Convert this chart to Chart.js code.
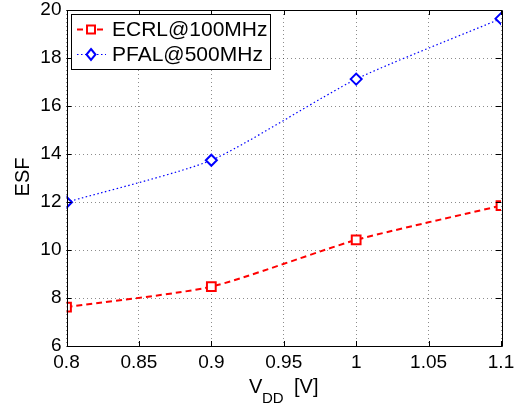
<!DOCTYPE html>
<html>
<head>
<meta charset="utf-8">
<script src="https://cdn.jsdelivr.net/npm/chart.js@4"></script>
<style>
  html, body { margin: 0; padding: 0; background: #fff; }
  #wrap { width: 521px; height: 406px; }
</style>
</head>
<body>
<div id="wrap"><canvas id="esf"></canvas></div>
<script>
// supply voltage sweep and energy saving factor per logic family
const vdd = [0.8, 0.9, 1.0, 1.1];
const ecrl = [7.62, 8.47, 10.42, 11.85];
const pfal = [11.99, 13.74, 17.12, 19.64];
const seriesNames = ["ECRL@100MHz", "PFAL@500MHz"];
const xTicks = [0.8, 0.85, 0.9, 0.95, 1.0, 1.05, 1.1];
const yTicks = [6, 8, 10, 12, 14, 16, 18, 20];

const FONT = "'Liberation Sans', Arial, Helvetica, sans-serif";

function pts(ys) {
    return vdd.map((x, i) => ({x: x, y: ys[i]}));
}

// box around the axes, inward tick marks, legend and the x label with subscript
const matlabAxes = {
    id: "matlabAxes",
    afterDraw(chart) {
        const ctx = chart.ctx;
        const a = chart.chartArea;
        const xs = chart.scales.x, ys = chart.scales.y;
        ctx.save();
        ctx.strokeStyle = "#000";
        ctx.lineWidth = 1;
        ctx.setLineDash([]);
        ctx.beginPath();
        ctx.rect(Math.round(a.left) + 0.5, Math.round(a.top) + 0.5,
                 Math.round(a.right - a.left), Math.round(a.bottom - a.top));
        ctx.stroke();

        const tl = 5;
        ctx.beginPath();
        xTicks.forEach(v => {
            const px = Math.round(xs.getPixelForValue(v)) + 0.5;
            ctx.moveTo(px, a.bottom); ctx.lineTo(px, a.bottom - tl);
            ctx.moveTo(px, a.top); ctx.lineTo(px, a.top + tl);
        });
        yTicks.forEach(v => {
            const py = Math.round(ys.getPixelForValue(v)) + 0.5;
            ctx.moveTo(a.left, py); ctx.lineTo(a.left + tl, py);
            ctx.moveTo(a.right, py); ctx.lineTo(a.right - tl, py);
        });
        ctx.stroke();

        // legend
        const lx = 71.5, ly = 14.5, lw = 199, lh = 55;
        ctx.fillStyle = "#fff";
        ctx.fillRect(lx, ly, lw, lh);
        ctx.strokeStyle = "#000";
        ctx.strokeRect(lx, ly, lw, lh);
        ctx.font = "21px " + FONT;
        ctx.textBaseline = "middle";
        ctx.textAlign = "left";
        chart.data.datasets.forEach((ds, i) => {
            const cy = 29.5 + i * 25;
            ctx.strokeStyle = ds.borderColor;
            ctx.lineWidth = ds.borderWidth;
            ctx.setLineDash(ds.borderDash);
            ctx.beginPath();
            ctx.moveTo(77, cy); ctx.lineTo(106, cy);
            ctx.stroke();
            ctx.setLineDash([]);
            ctx.lineWidth = ds.pointBorderWidth;
            ctx.fillStyle = "#fff";
            ctx.beginPath();
            if (ds.pointStyle === "rect") {
                ctx.rect(87, cy - 4, 8, 8);
            } else {
                ctx.moveTo(91, cy - 5.5); ctx.lineTo(95.5, cy);
                ctx.lineTo(91, cy + 5.5); ctx.lineTo(86.5, cy);
                ctx.closePath();
            }
            ctx.fill();
            ctx.stroke();
            ctx.fillStyle = "#000";
            ctx.fillText(ds.label, 112, cy + 1);
        });

        // x axis title: V_DD [V]
        ctx.fillStyle = "#000";
        ctx.textBaseline = "alphabetic";
        ctx.font = "20px " + FONT;
        ctx.fillText("V", 249, 393);
        ctx.font = "15px " + FONT;
        ctx.fillText("DD", 262, 403);
        ctx.font = "20px " + FONT;
        ctx.fillText("[V]", 294, 393);
        ctx.restore();
    }
};

new Chart(document.getElementById("esf"), {
    type: "line",
    data: {
        datasets: [{
            label: seriesNames[0],
            data: pts(ecrl),
            borderColor: "#ff0000",
            borderWidth: 2,
            borderDash: [6, 4],
            pointStyle: "rect",
            pointRadius: 6.2,
            pointBorderWidth: 2,
            pointBackgroundColor: "#fff",
            pointBorderColor: "#ff0000",
            tension: 0.2
        }, {
            label: seriesNames[1],
            data: pts(pfal),
            borderColor: "#0000ff",
            borderWidth: 1.2,
            borderDash: [1.5, 2.5],
            pointStyle: "rectRot",
            pointRadius: 5.5,
            pointBorderWidth: 2,
            pointBackgroundColor: "#fff",
            pointBorderColor: "#0000ff",
            tension: 0.2
        }]
    },
    options: {
        responsive: true,
        maintainAspectRatio: false,
        animation: false,
        events: [],
        layout: {padding: {left: 0, right: 20, top: 10, bottom: 0}},
        plugins: {legend: {display: false}, tooltip: {enabled: false}},
        scales: {
            x: {
                type: "linear",
                min: 0.8,
                max: 1.1,
                afterBuildTicks: s => { s.ticks = xTicks.map(v => ({value: v})); },
                afterFit: s => {
                    s.height = 60;
                    s.paddingLeft = 0;
                    s.paddingRight = 0;
                },
                ticks: {
                    color: "#000",
                    padding: 5,
                    font: {family: FONT, size: 19},
                    callback: v => String(+v.toFixed(2))
                },
                grid: {color: "rgba(0,0,0,0.45)", lineWidth: 1, drawTicks: false},
                border: {display: false, dash: [1, 3]}
            },
            y: {
                min: 6,
                max: 20,
                afterBuildTicks: s => { s.ticks = yTicks.map(v => ({value: v})); },
                afterFit: s => {
                    s.width = 66.5;
                    s.paddingTop = 0;
                    s.paddingBottom = 0;
                },
                ticks: {
                    color: "#000",
                    padding: 5,
                    font: {family: FONT, size: 19}
                },
                title: {display: false},
                grid: {color: "rgba(0,0,0,0.45)", lineWidth: 1, drawTicks: false},
                border: {display: false, dash: [1, 3]}
            }
        }
    },
    plugins: [matlabAxes, {
        id: "yTitle",
        afterDraw(chart) {
            const ctx = chart.ctx;
            ctx.save();
            ctx.translate(29, 177);
            ctx.rotate(-Math.PI / 2);
            ctx.font = "20px " + FONT;
            ctx.textAlign = "center";
            ctx.textBaseline = "alphabetic";
            ctx.fillStyle = "#000";
            ctx.fillText("ESF", 0, 0);
            ctx.restore();
        }
    }]
});
</script>
</body>
</html>
